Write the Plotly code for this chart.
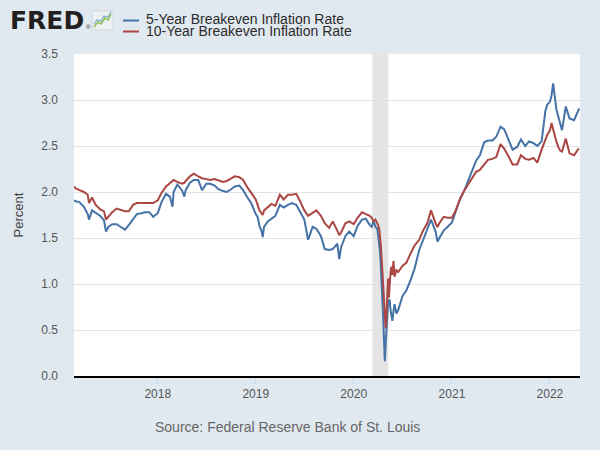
import plotly.graph_objects as go

# ---------------- data ----------------
dates = [
    "2017-02-23", "2017-03-01", "2017-03-15", "2017-04-01", "2017-04-15", "2017-04-20",
    "2017-05-01", "2017-05-15", "2017-06-01", "2017-06-15", "2017-06-22", "2017-07-01",
    "2017-07-15", "2017-08-01", "2017-08-15", "2017-09-01", "2017-09-15", "2017-10-01",
    "2017-10-15", "2017-11-01", "2017-11-15", "2017-12-01", "2017-12-15",
    "2018-01-01", "2018-01-15", "2018-02-01", "2018-02-15", "2018-02-25", "2018-03-01",
    "2018-03-15", "2018-04-01", "2018-04-10", "2018-04-15", "2018-05-01", "2018-05-15",
    "2018-06-01", "2018-06-15", "2018-07-01", "2018-07-15", "2018-08-01", "2018-08-15",
    "2018-09-01", "2018-09-15", "2018-10-01", "2018-10-15", "2018-11-01", "2018-11-15",
    "2018-12-01", "2018-12-15",
    "2019-01-01", "2019-01-08", "2019-01-15", "2019-01-22", "2019-01-27", "2019-02-01",
    "2019-02-15", "2019-03-01", "2019-03-15", "2019-04-01", "2019-04-15", "2019-05-01",
    "2019-05-15", "2019-06-01", "2019-06-15", "2019-07-01", "2019-07-15", "2019-08-01",
    "2019-08-15", "2019-09-01", "2019-09-15", "2019-10-01", "2019-10-15", "2019-11-01",
    "2019-11-08", "2019-11-15", "2019-12-01", "2019-12-15",
    "2020-01-01", "2020-01-15", "2020-02-01", "2020-02-15", "2020-03-01", "2020-03-08",
    "2020-03-15", "2020-03-22", "2020-03-29", "2020-04-05", "2020-04-08", "2020-04-11",
    "2020-04-14", "2020-04-17", "2020-04-20", "2020-04-23", "2020-04-26", "2020-04-29",
    "2020-05-02", "2020-05-05", "2020-05-08", "2020-05-11", "2020-05-14", "2020-05-17",
    "2020-05-20", "2020-05-24", "2020-05-28", "2020-06-01", "2020-06-08", "2020-06-15",
    "2020-07-01", "2020-07-15", "2020-08-01", "2020-08-15", "2020-09-01", "2020-09-15",
    "2020-10-01", "2020-10-15", "2020-11-01", "2020-11-08", "2020-11-15", "2020-12-01",
    "2020-12-15",
    "2021-01-01", "2021-01-15", "2021-02-01", "2021-02-15", "2021-03-01", "2021-03-15",
    "2021-04-01", "2021-04-15", "2021-05-01", "2021-05-15", "2021-06-01", "2021-06-15",
    "2021-07-01", "2021-07-15", "2021-08-01", "2021-08-15", "2021-09-01", "2021-09-15",
    "2021-10-01", "2021-10-15", "2021-11-01", "2021-11-15", "2021-12-01", "2021-12-08",
    "2021-12-15", "2021-12-22",
    "2022-01-01", "2022-01-07", "2022-01-13", "2022-01-18", "2022-01-25", "2022-02-01",
    "2022-02-08", "2022-02-15", "2022-03-01", "2022-03-15", "2022-04-01", "2022-04-15",
    "2022-04-20",
]

five_year = [
    1.91, 1.90, 1.89, 1.84, 1.76, 1.70,
    1.80, 1.77, 1.74, 1.69, 1.57, 1.62,
    1.65, 1.65, 1.62, 1.59, 1.64, 1.70,
    1.76, 1.77, 1.78, 1.78, 1.73,
    1.77, 1.89, 1.98, 1.95, 1.84, 2.00,
    2.08, 2.02, 1.95, 2.02, 2.10, 2.13,
    2.13, 2.02, 2.09, 2.09, 2.07, 2.03,
    2.01, 2.00, 2.03, 2.06, 2.07, 2.02,
    1.94, 1.88,
    1.76, 1.73, 1.63, 1.58, 1.51, 1.62,
    1.68, 1.71, 1.74, 1.86, 1.83, 1.86,
    1.88, 1.86, 1.78, 1.70, 1.48, 1.62,
    1.60, 1.52, 1.38, 1.37, 1.38, 1.44,
    1.27, 1.40, 1.52, 1.57,
    1.52, 1.63, 1.70, 1.71, 1.64, 1.62,
    1.69, 1.62, 1.60, 1.45, 1.35, 1.20,
    1.05, 0.85, 0.62, 0.38, 0.16, 0.35,
    0.50, 0.68, 0.79, 0.82, 0.83, 0.72,
    0.64, 0.60, 0.70, 0.78, 0.68, 0.72,
    0.87, 0.93, 1.05, 1.17, 1.37, 1.48,
    1.60, 1.70, 1.57, 1.46, 1.50, 1.58,
    1.62,
    1.67, 1.79, 1.93, 2.01, 2.11, 2.20,
    2.34, 2.40, 2.54, 2.56, 2.56, 2.60,
    2.71, 2.68, 2.55, 2.46, 2.49, 2.57,
    2.50, 2.55, 2.53, 2.50, 2.55, 2.70,
    2.88, 2.95,
    2.98, 3.05, 3.18, 3.06, 2.90, 2.82,
    2.74, 2.67, 2.93, 2.80, 2.78, 2.88,
    2.91,
]

ten_year = [
    2.06, 2.04, 2.02, 2.00, 1.97, 1.88,
    1.94, 1.86, 1.81, 1.79, 1.70, 1.73,
    1.78, 1.82, 1.81, 1.79, 1.79, 1.86,
    1.88, 1.88, 1.88, 1.88, 1.88,
    1.91, 1.99, 2.06, 2.09, 2.12, 2.13,
    2.11, 2.09, 2.10, 2.12, 2.17, 2.20,
    2.17, 2.15, 2.14, 2.13, 2.14, 2.13,
    2.11, 2.12, 2.15, 2.17, 2.16, 2.13,
    2.05, 1.99,
    1.92, 1.86, 1.80, 1.77, 1.75, 1.80,
    1.83, 1.87, 1.85, 1.97, 1.92, 1.97,
    1.97, 1.98, 1.90, 1.80, 1.74, 1.77,
    1.80, 1.74, 1.66, 1.61, 1.68, 1.58,
    1.53, 1.56, 1.66, 1.68,
    1.65, 1.72, 1.78, 1.76, 1.74, 1.72,
    1.68, 1.70, 1.66, 1.60, 1.52, 1.42,
    1.28, 1.10, 0.92, 0.75, 0.60, 0.52,
    0.65, 0.85, 1.06, 0.85, 1.02, 1.12,
    1.19, 1.10, 1.25, 1.08, 1.15, 1.13,
    1.20, 1.23, 1.34, 1.42, 1.48, 1.58,
    1.66, 1.80, 1.66, 1.62, 1.66, 1.73,
    1.72,
    1.72, 1.80, 1.93, 2.01, 2.08, 2.15,
    2.22, 2.24, 2.30, 2.35, 2.36, 2.38,
    2.52, 2.47, 2.38, 2.30, 2.30, 2.40,
    2.36, 2.35, 2.37, 2.32, 2.46, 2.52,
    2.58, 2.62,
    2.67, 2.75, 2.68, 2.62, 2.55, 2.49,
    2.45, 2.44, 2.58, 2.42, 2.40, 2.46,
    2.47,
]

series_names = ["5-Year Breakeven Inflation Rate", "10-Year Breakeven Inflation Rate"]
year_ticks = ["2018-01-01", "2019-01-01", "2020-01-01", "2021-01-01", "2022-01-01"]
year_labels = ["2018", "2019", "2020", "2021", "2022"]
x_range = ["2017-02-23", "2022-04-23"]
recession = ["2020-03-10", "2020-05-09"]

# ---------------- styling ----------------
BLUE = "#4572A7"
RED = "#AA4643"
BG = "#e1e9f0"
FONT = "Liberation Sans, Arial, sans-serif"

L, R, T, B = 74, 20, 54, 74
W, H = 600, 450
PW, PH = W - L - R, H - T - B


def px(xp):
    return (xp - L) / PW


def py(yp):
    return (H - B - yp) / PH


fig = go.Figure()
fig.add_trace(go.Scatter(x=dates, y=five_year, mode="lines", name=series_names[0],
                         line=dict(color=BLUE, width=2)))
fig.add_trace(go.Scatter(x=dates, y=ten_year, mode="lines", name=series_names[1],
                         line=dict(color=RED, width=2)))

shapes = [
    dict(type="rect", xref="x", yref="paper", x0=recession[0], x1=recession[1],
         y0=0, y1=1, fillcolor="#e5e5e5", line=dict(width=0), layer="below"),
    # legend samples
    dict(type="line", xref="paper", yref="paper", x0=px(123), x1=px(139),
         y0=py(20.5), y1=py(20.5), line=dict(color=BLUE, width=2)),
    dict(type="line", xref="paper", yref="paper", x0=px(123), x1=px(139),
         y0=py(31.5), y1=py(31.5), line=dict(color=RED, width=2)),
    # FRED logo icon
    dict(type="rect", xref="paper", yref="paper", x0=px(92), x1=px(113),
         y0=py(30), y1=py(11), fillcolor="#eef1f3", line=dict(color="#cfd6dc", width=1)),
    dict(type="path", xref="paper", yref="paper",
         path=f"M {px(94)},{py(27)} L {px(98)},{py(22)} L {px(101)},{py(24)} L {px(105)},{py(18)} L {px(108)},{py(20)} L {px(111)},{py(14)}",
         line=dict(color="#8bbf4b", width=1.5)),
    dict(type="path", xref="paper", yref="paper",
         path=f"M {px(94)},{py(24)} L {px(97)},{py(20)} L {px(101)},{py(21)} L {px(104)},{py(16)} L {px(108)},{py(17)} L {px(111)},{py(12)}",
         line=dict(color="#7fa6cc", width=1.2)),
]

annotations = [
    dict(text="<b>FRED</b>", xref="paper", yref="paper", x=px(8), y=py(20.5),
         xanchor="left", yanchor="middle", showarrow=False,
         font=dict(family="DejaVu Sans, sans-serif", size=25, color="#231f20")),
    dict(text="®", xref="paper", yref="paper", x=px(84), y=py(27),
         xanchor="left", yanchor="middle", showarrow=False,
         font=dict(family=FONT, size=6, color="#231f20")),
    dict(text=series_names[0], xref="paper", yref="paper", x=px(144), y=py(19.5),
         xanchor="left", yanchor="middle", showarrow=False,
         font=dict(family=FONT, size=14, color="#2b2b2b")),
    dict(text=series_names[1], xref="paper", yref="paper", x=px(144), y=py(31),
         xanchor="left", yanchor="middle", showarrow=False,
         font=dict(family=FONT, size=14, color="#2b2b2b")),
    dict(text="Percent", xref="paper", yref="paper", x=px(17.5), y=0.5,
         xanchor="center", yanchor="middle", textangle=-90, showarrow=False,
         font=dict(family=FONT, size=13, color="#444444")),
    dict(text="Source: Federal Reserve Bank of St. Louis", xref="paper", yref="paper",
         x=px(287), y=py(427), xanchor="center", yanchor="middle", showarrow=False,
         font=dict(family=FONT, size=14, color="#666666")),
]

fig.update_layout(
    width=W, height=H,
    margin=dict(l=L, r=R, t=T, b=B, pad=0),
    paper_bgcolor=BG, plot_bgcolor="white",
    showlegend=False,
    font=dict(family=FONT, size=12, color="#555555"),
    shapes=shapes, annotations=annotations,
    xaxis=dict(type="date", range=x_range, tickvals=year_ticks, ticktext=year_labels,
               ticks="outside", ticklen=6, tickcolor="#ccd6eb", tickwidth=1,
               showgrid=False, zeroline=False, showline=True, linecolor="#000000",
               linewidth=2, tickfont=dict(size=12, color="#555555")),
    yaxis=dict(range=[0, 3.5], tick0=0, dtick=0.5, tickformat=".1f",
               showgrid=True, gridcolor="#e3e3e3", gridwidth=1, zeroline=False,
               showline=False, ticks="", ticklabelstandoff=15,
               tickfont=dict(size=12, color="#555555")),
)

# remove the page's default 8px body margin so the 600x450 figure fills the window
fig.write_html("out.html", config={"displayModeBar": False},
               post_script="document.body.style.margin='0px';")
